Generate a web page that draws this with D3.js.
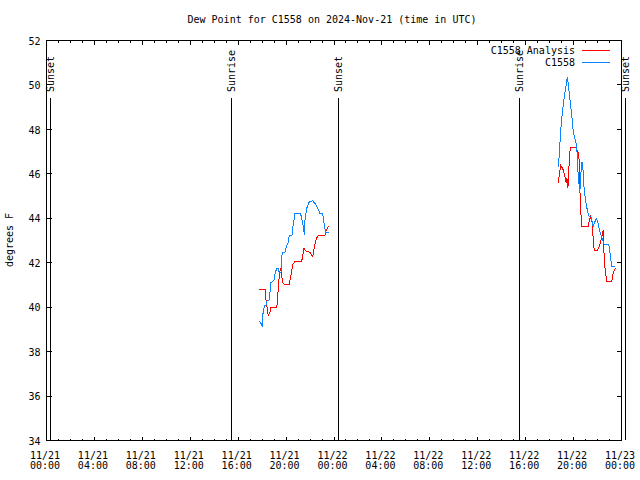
<!DOCTYPE html>
<html><head><meta charset="utf-8">
<script src="https://cdn.jsdelivr.net/npm/d3@7"></script>
<style>
body{margin:0;background:#fff}
svg{display:block;background:#fff}
text{font-family:"DejaVu Sans Mono","Liberation Mono",monospace;font-size:10px;fill:#000}
</style>
</head><body>
<svg id="chart" width="640" height="480"></svg>
<script>
// ---------- data ----------
const chartTitle = "Dew Point for C1558 on 2024-Nov-21 (time in UTC)";
const yAxisLabel = "degrees F";
const seriesNames = ["C1558 Analysis", "C1558"];

const analysisTimes = [
  "2024-11-21T17:48","2024-11-21T18:17","2024-11-21T18:22","2024-11-21T18:33","2024-11-21T18:42",
  "2024-11-21T18:45","2024-11-21T19:15","2024-11-21T19:20","2024-11-21T19:23","2024-11-21T19:28",
  "2024-11-21T19:35","2024-11-21T19:40","2024-11-21T19:45","2024-11-21T19:52","2024-11-21T20:18",
  "2024-11-21T20:27","2024-11-21T20:35","2024-11-21T20:47","2024-11-21T21:21","2024-11-21T21:26",
  "2024-11-21T21:32","2024-11-21T21:42","2024-11-21T22:02","2024-11-21T22:16","2024-11-21T22:29",
  "2024-11-21T22:36","2024-11-21T22:44","2024-11-21T23:17","2024-11-21T23:22","2024-11-21T23:29",
  "2024-11-21T23:36",
  "2024-11-22T18:46","2024-11-22T18:51","2024-11-22T18:58","2024-11-22T19:04","2024-11-22T19:11",
  "2024-11-22T19:19","2024-11-22T19:26","2024-11-22T19:29","2024-11-22T19:34","2024-11-22T19:39",
  "2024-11-22T19:44","2024-11-22T19:48","2024-11-22T20:13","2024-11-22T20:18","2024-11-22T20:29",
  "2024-11-22T20:34","2024-11-22T20:39","2024-11-22T20:44","2024-11-22T21:18","2024-11-22T21:21",
  "2024-11-22T21:27","2024-11-22T21:36","2024-11-22T21:41","2024-11-22T21:46","2024-11-22T22:03",
  "2024-11-22T22:11","2024-11-22T22:18","2024-11-22T22:28","2024-11-22T22:31","2024-11-22T22:34",
  "2024-11-22T22:39","2024-11-22T22:48","2024-11-22T23:14","2024-11-22T23:21","2024-11-22T23:31"
];
const analysisValues = [
  40.78,40.78,40.30,39.59,39.77,
  39.95,39.95,40.22,40.83,41.35,
  41.75,41.42,41.10,41.01,41.01,
  41.42,41.87,42.05,42.05,42.32,
  42.63,42.50,42.45,42.25,42.92,
  43.10,43.19,43.19,43.40,43.52,
  43.64,
  45.55,45.93,46.37,46.27,46.15,
  45.88,45.55,45.78,45.33,46.23,
  46.97,47.17,47.17,47.05,46.90,
  45.25,44.20,43.63,43.63,43.90,
  44.05,43.75,43.00,42.55,42.55,
  42.70,42.92,43.30,43.45,42.55,
  41.80,41.15,41.15,41.50,41.73
];

const stationTimes = [
  "2024-11-21T17:48","2024-11-21T17:57","2024-11-21T18:03","2024-11-21T18:08","2024-11-21T18:17",
  "2024-11-21T18:22","2024-11-21T18:28","2024-11-21T18:37","2024-11-21T18:42","2024-11-21T18:47",
  "2024-11-21T18:52","2024-11-21T19:02","2024-11-21T19:09","2024-11-21T19:17","2024-11-21T19:22",
  "2024-11-21T19:29","2024-11-21T19:37","2024-11-21T19:42","2024-11-21T19:48","2024-11-21T19:57",
  "2024-11-21T20:02","2024-11-21T20:12","2024-11-21T20:18","2024-11-21T20:32","2024-11-21T20:38",
  "2024-11-21T20:47","2024-11-21T21:15","2024-11-21T21:22","2024-11-21T21:29","2024-11-21T21:34",
  "2024-11-21T21:37","2024-11-21T21:46","2024-11-21T21:57","2024-11-21T22:16","2024-11-21T22:31",
  "2024-11-21T22:41","2024-11-21T22:52","2024-11-21T23:06","2024-11-21T23:14","2024-11-21T23:21",
  "2024-11-21T23:36",
  "2024-11-22T18:46","2024-11-22T18:49","2024-11-22T18:51","2024-11-22T18:58","2024-11-22T19:06",
  "2024-11-22T19:14","2024-11-22T19:21","2024-11-22T19:28","2024-11-22T19:31","2024-11-22T19:36",
  "2024-11-22T19:41","2024-11-22T19:48","2024-11-22T19:54","2024-11-22T20:01","2024-11-22T20:08",
  "2024-11-22T20:13","2024-11-22T20:18","2024-11-22T20:21","2024-11-22T20:26","2024-11-22T20:31",
  "2024-11-22T20:34","2024-11-22T20:39","2024-11-22T20:44","2024-11-22T20:49","2024-11-22T20:51",
  "2024-11-22T20:56","2024-11-22T21:02","2024-11-22T21:08","2024-11-22T21:13","2024-11-22T21:21",
  "2024-11-22T21:29","2024-11-22T21:36","2024-11-22T21:41","2024-11-22T21:49","2024-11-22T21:58",
  "2024-11-22T22:03","2024-11-22T22:09","2024-11-22T22:14","2024-11-22T22:23","2024-11-22T22:31",
  "2024-11-22T22:36","2024-11-22T22:59","2024-11-22T23:04","2024-11-22T23:09","2024-11-22T23:14",
  "2024-11-22T23:29"
];
const stationValues = [
  39.35,39.24,39.10,39.85,40.07,
  40.07,40.30,40.30,40.66,41.11,
  41.11,41.20,41.56,41.74,41.74,
  41.52,41.52,42.33,42.46,42.46,
  42.64,42.87,43.18,43.22,43.67,
  44.20,44.20,43.90,43.60,43.22,
  43.90,44.43,44.70,44.76,44.60,
  44.43,44.20,44.20,43.67,43.35,
  43.35,
  46.30,46.63,46.83,47.95,48.70,
  49.30,49.75,50.12,50.32,50.05,
  49.60,49.00,48.55,47.87,47.58,
  47.47,47.20,46.75,45.85,45.40,
  45.17,46.00,46.52,46.30,45.85,
  45.25,44.80,44.50,44.27,44.05,
  44.05,43.82,43.60,43.82,43.97,
  43.82,43.60,43.37,43.15,42.92,
  42.78,42.78,42.47,42.10,41.83,
  41.83
];

const eventNames = ["Sunset","Sunrise","Sunset","Sunrise","Sunset"];
const eventTimes = ["2024-11-21T00:21","2024-11-21T15:28","2024-11-22T00:22","2024-11-22T15:28","2024-11-23T00:22"];

const xTickDates = ["11/21","11/21","11/21","11/21","11/21","11/21","11/22","11/22","11/22","11/22","11/22","11/22","11/23"];
const xTickHours = ["00:00","04:00","08:00","12:00","16:00","20:00","00:00","04:00","08:00","12:00","16:00","20:00","00:00"];
const yTicks = [34,36,38,40,42,44,46,48,50,52];

// ---------- drawing ----------
const parse = d3.utcParse("%Y-%m-%dT%H:%M");
const svg = d3.select("#chart");
const M = {left: 46, right: 621, top: 40, bottom: 440};
const t0 = parse("2024-11-21T00:00"), t1 = parse("2024-11-23T00:00");
const x = d3.scaleUtc().domain([t0, t1]).range([M.left, M.right]);
const y = d3.scaleLinear().domain([34, 52]).range([M.bottom, M.top]);
const colors = ["#ff0000", "#0a84ff"];

const majorTicks = d3.utcHour.every(4).range(t0, d3.utcHour.offset(t1, 1));
const minorTicks = d3.utcHour.every(1).range(t0, d3.utcHour.offset(t1, 1));

function styleAxis(g) {
  g.select(".domain").remove();
  g.selectAll("line").attr("stroke", "#000").attr("shape-rendering", "crispEdges");
}
// bottom ticks
svg.append("g").attr("transform", `translate(0,${M.bottom + 0.5})`)
  .call(d3.axisBottom(x).tickValues(minorTicks).tickSize(-2).tickFormat(""))
  .call(styleAxis);
svg.append("g").attr("transform", `translate(0,${M.bottom + 0.5})`)
  .call(d3.axisBottom(x).tickValues(majorTicks).tickSize(-4).tickFormat(""))
  .call(styleAxis);
// top ticks
svg.append("g").attr("transform", `translate(0,${M.top + 0.5})`)
  .call(d3.axisTop(x).tickValues(minorTicks).tickSize(-2).tickFormat(""))
  .call(styleAxis);
svg.append("g").attr("transform", `translate(0,${M.top + 0.5})`)
  .call(d3.axisTop(x).tickValues(majorTicks).tickSize(-4).tickFormat(""))
  .call(styleAxis);
// left axis with labels
const yl = svg.append("g").attr("transform", `translate(${M.left + 0.5},0)`)
  .call(d3.axisLeft(y).tickValues(yTicks).tickSize(-5).tickPadding(6).tickFormat(d3.format("d")))
  .call(styleAxis);
yl.attr("font-family", null).attr("font-size", null);
yl.selectAll("text").attr("fill", "#000").attr("dy", "0.42em");
// right axis
svg.append("g").attr("transform", `translate(${M.right + 0.5},0)`)
  .call(d3.axisRight(y).tickValues(yTicks).tickSize(-5).tickFormat(""))
  .call(styleAxis);

// x labels (two lines)
const xl = svg.append("g").selectAll("text").data(majorTicks).join("text")
  .attr("text-anchor", "middle")
  .attr("transform", d => `translate(${x(d) - 1},0)`);
xl.append("tspan").attr("x", 0).attr("y", 459).text((d, i) => xTickDates[i]);
xl.append("tspan").attr("x", 0).attr("y", 469).text((d, i) => xTickHours[i]);

// frame
svg.append("rect").attr("x", M.left + 0.5).attr("y", M.top + 0.5)
  .attr("width", M.right - M.left).attr("height", M.bottom - M.top)
  .attr("fill", "none").attr("stroke", "#000").attr("shape-rendering", "crispEdges");

// sunrise / sunset markers
const ev = svg.append("g").selectAll("g").data(eventTimes.map((t, i) => ({t: parse(t), name: eventNames[i]}))).join("g");
ev.append("line")
  .attr("x1", d => Math.round(x(d.t)) + 0.5).attr("x2", d => Math.round(x(d.t)) + 0.5)
  .attr("y1", 98).attr("y2", M.bottom)
  .attr("stroke", "#000").attr("shape-rendering", "crispEdges");
ev.append("text")
  .attr("transform", d => `translate(${Math.round(x(d.t)) + 4},92) rotate(-90)`)
  .attr("text-anchor", "start")
  .text(d => d.name);

// series
function segments(times, values) {
  const pts = times.map((t, i) => ({t: parse(t), v: values[i]}));
  const segs = [[]];
  pts.forEach((p, i) => {
    if (i > 0 && (p.t - pts[i - 1].t) > 3 * 3600e3) segs.push([]);
    segs[segs.length - 1].push(p);
  });
  return segs;
}
const line = d3.line().x(d => x(d.t)).y(d => y(d.v));
[[analysisTimes, analysisValues], [stationTimes, stationValues]].forEach(([ts, vs], k) => {
  svg.append("g").selectAll("path").data(segments(ts, vs)).join("path")
    .attr("d", line).attr("fill", "none").attr("stroke", colors[k])
    .attr("stroke-width", 1).attr("shape-rendering", "crispEdges");
});

// legend
seriesNames.forEach((n, i) => {
  const ly = 50 + i * 12;
  svg.append("text").attr("x", 575).attr("y", ly + 4).attr("text-anchor", "end").text(n);
  svg.append("line").attr("x1", 582).attr("x2", 610).attr("y1", ly + 0.5).attr("y2", ly + 0.5)
    .attr("stroke", colors[i]).attr("shape-rendering", "crispEdges");
});

// title & y label
svg.append("text").attr("x", 332).attr("y", 23).attr("text-anchor", "middle").text(chartTitle);
svg.append("text").attr("transform", "translate(13,240) rotate(-90)").attr("text-anchor", "middle").text(yAxisLabel);
</script>
</body></html>
